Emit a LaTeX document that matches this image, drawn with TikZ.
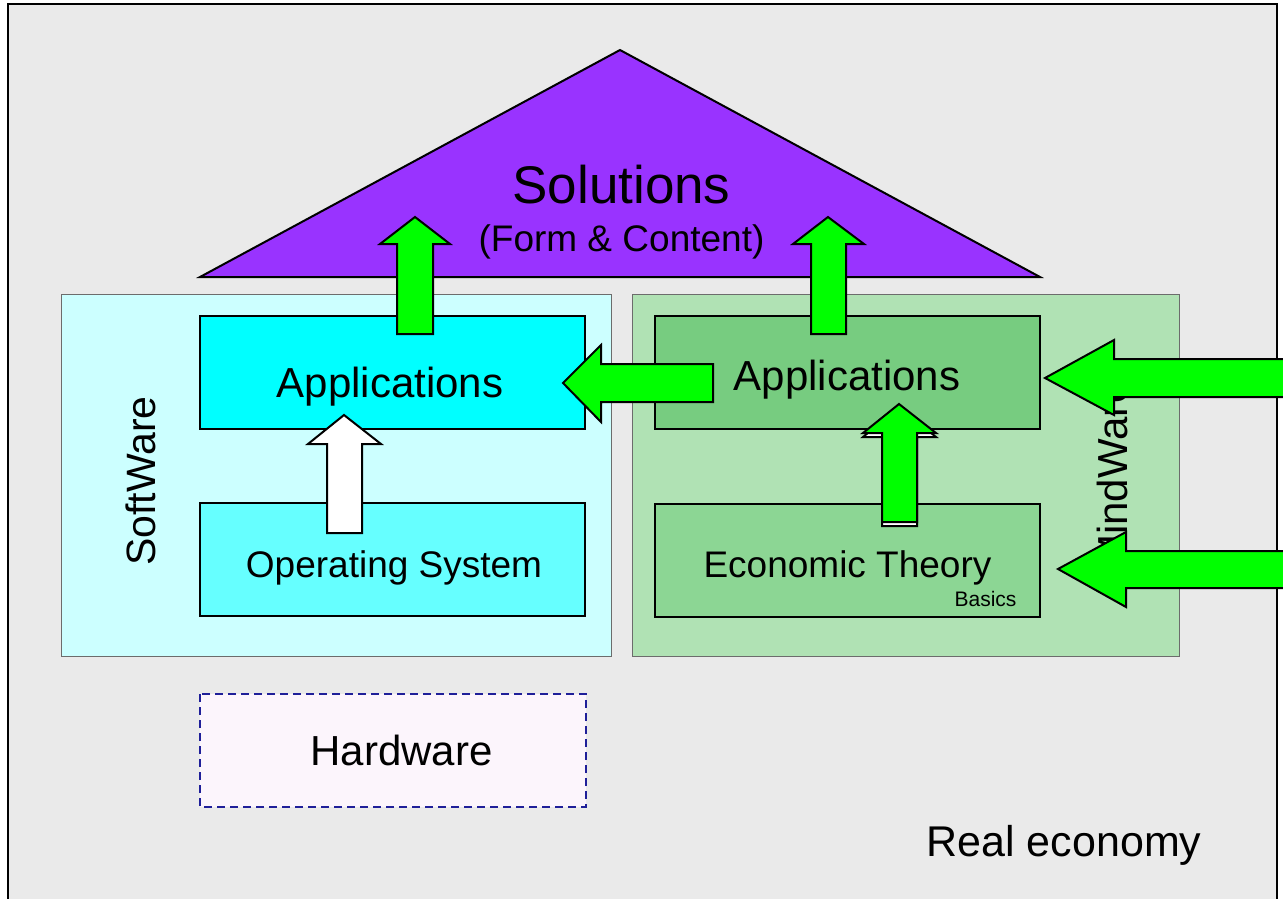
\documentclass[tikz,border=0pt]{standalone}
\usepackage{fontspec}
\setmainfont{Liberation Sans}
\definecolor{bgc}{HTML}{EAEAEA}
\definecolor{roofc}{HTML}{9933FF}
\definecolor{softc}{HTML}{CCFFFF}
\definecolor{mindc}{HTML}{B0E2B4}
\definecolor{cappc}{HTML}{00FFFF}
\definecolor{osc}{HTML}{66FFFF}
\definecolor{gappc}{HTML}{77CC80}
\definecolor{econc}{HTML}{8CD694}
\definecolor{hwc}{HTML}{FCF5FC}
\definecolor{hwline}{HTML}{1F1F99}
\definecolor{arrg}{HTML}{00FF00}
\newcommand{\myfs}[1]{\fontsize{#1}{#1}\selectfont}
\begin{document}
\begin{tikzpicture}[x=1pt,y=-1pt,
  panel/.style={draw=gray!85!black, line width=1pt},
  box/.style={draw=black, line width=2pt},
  garrow/.style={draw=black, fill=arrg, line width=2pt, line join=miter},
  warrow/.style={draw=black, fill=white, line width=2pt, line join=miter},
  txt/.style={anchor=base, inner sep=0pt, text=black}]
\useasboundingbox (0,0) rectangle (1283,898);
\clip (0,0) rectangle (1283,898);
% page frame
\fill[white] (0,0) rectangle (1283,898);
\draw[fill=bgc, line width=2.5pt] (8,4) rectangle (1277,910);
% roof
\draw[fill=roofc, line width=2pt, line join=miter] (200,277) -- (620,50) -- (1040,277) -- cycle;
\node[txt, font=\myfs{53}] (sol) at (621.5,203) {Solutions};
\node[txt, font=\myfs{37}] (form) at (621.5,251) {(Form \& Content)};
% panels
\draw[panel, fill=softc] (61,294) rectangle (611,656);
\draw[panel, fill=mindc] (632,294) rectangle (1179,656);
\node[txt, rotate=90, font=\myfs{41}] (soft) at (155,481) {SoftWare};
\node[txt, rotate=90, font=\myfs{42}] (mind) at (1127,475) {MindWare};
% boxes
\draw[box, fill=cappc] (200,316) rectangle (585,429);
\draw[box, fill=osc] (200,503) rectangle (585,616);
\draw[box, fill=gappc] (655,316) rectangle (1040,429);
\draw[box, fill=econc] (655,504) rectangle (1040,617);
\draw[draw=hwline, fill=hwc, line width=2pt, dash pattern=on 8pt off 5pt] (200,694) rectangle (586,807);
% texts
\node[txt, font=\myfs{42}] (capp) at (390,397) {Applications};
\node[txt, font=\myfs{37}] (os) at (394,577) {Operating System};
\node[txt, font=\myfs{42}] (gapp) at (847,390) {Applications};
\node[txt, font=\myfs{37}] (econ) at (847.5,577) {Economic Theory};
\node[txt, font=\myfs{21}] (basics) at (985.5,606) {Basics};
\node[txt, font=\myfs{42}] (hw) at (401.5,765) {Hardware};
\node[txt, font=\myfs{43}] (real) at (1064,856) {Real economy};
% arrows
\draw[garrow] (397,334) -- (397,244) -- (380,244) -- (415,217) -- (450,244) -- (433,244) -- (433,334) -- cycle;
\draw[garrow] (811,334) -- (811,244) -- (793,244) -- (828,217) -- (864,244) -- (846,244) -- (846,334) -- cycle;
\draw[warrow] (327,533) -- (327,444) -- (308,444) -- (344,415) -- (381,444) -- (362,444) -- (362,533) -- cycle;
\draw[warrow] (882,526) -- (882,437) -- (863,437) -- (899,407) -- (936,437) -- (917,437) -- (917,526) -- cycle;
\draw[garrow] (882,522) -- (882,433) -- (863,433) -- (899,404) -- (936,433) -- (917,433) -- (917,522) -- cycle;
\draw[garrow] (713,364) -- (601,364) -- (601,345) -- (563,383) -- (601,422) -- (601,402) -- (713,402) -- cycle;
\draw[garrow] (1300,359) -- (1114,359) -- (1114,340) -- (1045,378) -- (1114,415) -- (1114,397) -- (1300,397) -- cycle;
\draw[garrow] (1300,551) -- (1126,551) -- (1126,532) -- (1058,569) -- (1126,607) -- (1126,588) -- (1300,588) -- cycle;
\end{tikzpicture}
\end{document}
